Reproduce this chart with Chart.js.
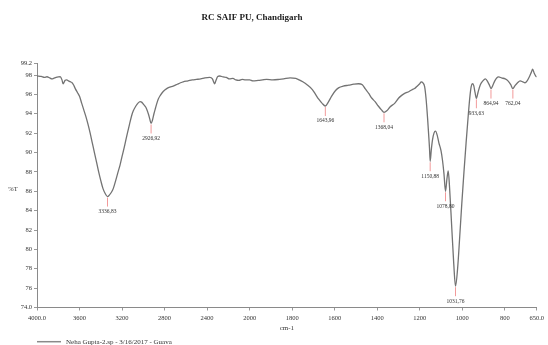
<!DOCTYPE html>
<html>
<head>
<meta charset="utf-8">
<script src="https://cdn.jsdelivr.net/npm/chart.js@4.4.1/dist/chart.umd.min.js"></script>
<style>
  html, body { margin: 0; padding: 0; background: #fff; }
  canvas { display: block; }
</style>
</head>
<body>
<canvas id="ir" width="548" height="345"></canvas>
<script>
// FT-IR spectrum: wavenumber (cm-1) and %T
const wavenumbers = [
  4000, 3960, 3930, 3906, 3880, 3860, 3844, 3820, 3800, 3781, 3765, 3755, 3748, 3735, 3720,
  3704, 3685, 3670, 3657, 3640, 3620, 3600, 3580, 3560, 3540, 3520, 3500, 3480, 3460, 3440,
  3420, 3400, 3380, 3360, 3336.83, 3320, 3300, 3282, 3260, 3240, 3219, 3200, 3180, 3156, 3130,
  3110, 3094, 3070, 3050, 3030, 3016, 3000, 2985, 2969, 2950, 2940, 2926.92, 2915, 2900, 2885,
  2875, 2860, 2840, 2813, 2780, 2750, 2719, 2680, 2650, 2625, 2580, 2540, 2500, 2460, 2420,
  2375, 2350, 2335, 2328, 2318, 2300, 2282, 2250, 2220, 2190, 2157, 2130, 2100, 2070, 2040,
  2000, 1985, 1960, 1940, 1920, 1891, 1860, 1840, 1810, 1783, 1767, 1750, 1730, 1705, 1690,
  1675, 1660, 1643.96, 1630, 1615, 1596, 1580, 1560, 1534, 1510, 1488, 1470, 1457, 1440, 1425,
  1410, 1395, 1380, 1368.04, 1355, 1340, 1317, 1300, 1285, 1271, 1250, 1235, 1224, 1210, 1200,
  1193, 1185, 1177, 1170, 1163, 1157, 1154, 1150.88, 1146, 1140, 1133, 1126, 1118, 1110, 1100,
  1093, 1086, 1078.80, 1072, 1066, 1060, 1050, 1040, 1031.76, 1022, 1012, 1002, 992, 982, 972,
  964, 958, 952, 946, 940, 933.63, 926, 915, 903, 891, 880, 871, 864.94, 857, 847,
  838, 829, 815, 798, 785, 772, 762.04, 752, 740, 728, 715, 705, 695, 685, 675,
  669, 662, 655, 650
];
const transmittance = [
  97.9, 97.85, 97.75, 97.82, 97.7, 97.6, 97.65, 97.75, 97.8, 97.82, 97.5, 97.1, 97.2, 97.45, 97.5,
  97.4, 97.3, 97.2, 97.0, 96.6, 96.2, 95.8, 95.1, 94.4, 93.7, 92.9, 92.0, 91.0, 90.0, 89.0,
  88.0, 87.1, 86.3, 85.8, 85.45, 85.6, 85.9, 86.3, 87.1, 87.9, 88.7, 89.6, 90.5, 91.7, 92.9,
  93.8, 94.3, 94.8, 95.1, 95.25, 95.2, 95.0, 94.8, 94.5, 93.9, 93.5, 93.0, 93.3, 94.0, 94.6,
  95.0, 95.5, 95.9, 96.3, 96.6, 96.75, 96.85, 97.05, 97.2, 97.3, 97.4, 97.5, 97.55, 97.6, 97.7,
  97.75, 97.6, 97.2, 97.1, 97.4, 97.85, 97.9, 97.8, 97.75, 97.6, 97.65, 97.5, 97.45, 97.55, 97.5,
  97.5, 97.4, 97.45, 97.5, 97.55, 97.5, 97.55, 97.6, 97.7, 97.65, 97.5, 97.3, 97.0, 96.5, 96.0,
  95.5, 95.1, 94.8, 95.2, 95.8, 96.4, 96.7, 96.85, 96.95, 97.05, 97.1, 97.0, 96.6, 96.1, 95.6,
  95.25, 94.8, 94.4, 94.15, 94.3, 94.7, 95.1, 95.6, 95.9, 96.1, 96.3, 96.5, 96.6, 96.9, 97.1,
  97.3, 97.2, 96.8, 95.5, 93.5, 91.5, 90.4, 89.1, 90.2, 91.3, 92.0, 92.2, 91.8, 91.0, 90.2,
  89.2, 87.8, 86.0, 87.3, 88.1, 86.5, 82.5, 78.5, 76.2, 78.0, 81.3, 84.8, 88.0, 91.0, 93.8,
  95.8, 96.8, 97.1, 96.9, 96.2, 95.6, 96.2, 97.0, 97.4, 97.6, 97.3, 96.9, 96.6, 96.9, 97.4,
  97.7, 97.8, 97.7, 97.6, 97.4, 97.0, 96.6, 96.9, 97.2, 97.4, 97.3, 97.2, 97.4, 97.8, 98.3,
  98.6, 98.2, 97.9, 97.8
];
const peakWavenumbers = [3336.83, 2926.92, 1643.96, 1368.04, 1150.88, 1078.80, 1031.76, 933.63, 864.94, 762.04];
const xTickValues = [4000, 3600, 3200, 2800, 2400, 2000, 1800, 1600, 1400, 1200, 1000, 800, 650];
const yTickValues = [74, 76, 78, 80, 82, 84, 86, 88, 90, 92, 94, 96, 98, 99.2];
const sampleName = 'Neha Gupta-2.sp - 3/16/2017 - Guava';
const chartTitle = 'RC SAIF PU, Chandigarh';

// Above 2000 cm-1 the wavenumber axis is compressed to half scale.
const SCALE_BREAK = 2000;
function toAxis(w) {
  return w >= SCALE_BREAK ? 4000 - w : (4000 - SCALE_BREAK) + 2 * (SCALE_BREAK - w);
}

const SERIF = '"Liberation Serif", "DejaVu Serif", serif';
const points = wavenumbers.map((w, i) => ({ x: toAxis(w), y: transmittance[i] }));

const fmtComma = v => v.toFixed(2).replace('.', ',');

const peakMarkers = {
  id: 'peakMarkers',
  afterDatasetsDraw(chart) {
    const { ctx, scales: { x, y } } = chart;
    ctx.save();
    ctx.font = '5.5px ' + SERIF;
    ctx.textAlign = 'center';
    ctx.textBaseline = 'middle';
    peakWavenumbers.forEach(w => {
      const i = wavenumbers.indexOf(w);
      const px = x.getPixelForValue(toAxis(w));
      const py = y.getPixelForValue(transmittance[i]);
      ctx.strokeStyle = '#f29a9a';
      ctx.lineWidth = 1;
      ctx.beginPath();
      ctx.moveTo(px, py + 1);
      ctx.lineTo(px, py + 10);
      ctx.stroke();
      ctx.fillStyle = '#333';
      ctx.fillText(fmtComma(w), px, py + 15);
    });
    ctx.restore();
  }
};

const annotations = {
  id: 'annotations',
  afterDraw(chart) {
    const { ctx } = chart;
    ctx.save();
    ctx.fillStyle = '#222';
    ctx.textBaseline = 'middle';
    ctx.textAlign = 'center';
    ctx.font = 'bold 9px ' + SERIF;
    ctx.fillText(chartTitle, 252, 18);
    ctx.font = '6.5px ' + SERIF;
    ctx.fillStyle = '#333';
    ctx.fillText('%T', 13, 189);
    // sample legend
    ctx.strokeStyle = '#8a8a8a';
    ctx.lineWidth = 1.5;
    ctx.beginPath();
    ctx.moveTo(37, 341.7);
    ctx.lineTo(61, 341.7);
    ctx.stroke();
    ctx.textAlign = 'left';
    ctx.font = '7px ' + SERIF;
    ctx.fillText(chart.data.datasets[0].label, 66, 341.7);
    ctx.restore();
  }
};

new Chart(document.getElementById('ir'), {
  type: 'line',
  data: {
    datasets: [{
      label: sampleName,
      data: points,
      borderColor: '#737373',
      borderWidth: 1.3,
      pointRadius: 0,
      cubicInterpolationMode: 'monotone',
      fill: false
    }]
  },
  options: {
    responsive: false,
    animation: false,
    devicePixelRatio: 1,
    layout: { padding: { top: 63.4, right: 8, left: 0, bottom: 0 } },
    plugins: {
      legend: { display: false },
      title: { display: false },
      tooltip: { enabled: false }
    },
    scales: {
      x: {
        type: 'linear',
        min: toAxis(4000),
        max: toAxis(650),
        afterFit(scale) { scale.height = 37.5; },
        afterBuildTicks(scale) { scale.ticks = xTickValues.map(w => ({ value: toAxis(w) })); },
        ticks: {
          autoSkip: false,
          maxRotation: 0,
          padding: 4,
          color: '#333',
          font: { family: SERIF, size: 6.5 },
          callback: (v, i) => {
            const w = xTickValues[i];
            return (w === 4000 || w === 650) ? w.toFixed(1) : String(w);
          }
        },
        grid: { display: true, drawOnChartArea: false, drawTicks: true, tickLength: 3, color: '#999' },
        border: { display: true, color: '#8a8a8a', width: 1 },
        title: {
          display: true,
          text: 'cm-1',
          color: '#333',
          font: { family: SERIF, size: 7 },
          padding: { top: 0, bottom: 12.8 }
        }
      },
      y: {
        min: 74,
        max: 99.2,
        afterFit(scale) { scale.width = 37; },
        afterBuildTicks(scale) { scale.ticks = yTickValues.map(v => ({ value: v })); },
        ticks: {
          autoSkip: false,
          padding: 2,
          color: '#333',
          font: { family: SERIF, size: 6.5 },
          callback: v => (v === 74 || v === 99.2) ? v.toFixed(1) : String(v)
        },
        grid: { display: true, drawOnChartArea: false, drawTicks: true, tickLength: 3, color: '#999' },
        border: { display: true, color: '#8a8a8a', width: 1 }
      }
    }
  },
  plugins: [peakMarkers, annotations]
});
</script>
</body>
</html>
